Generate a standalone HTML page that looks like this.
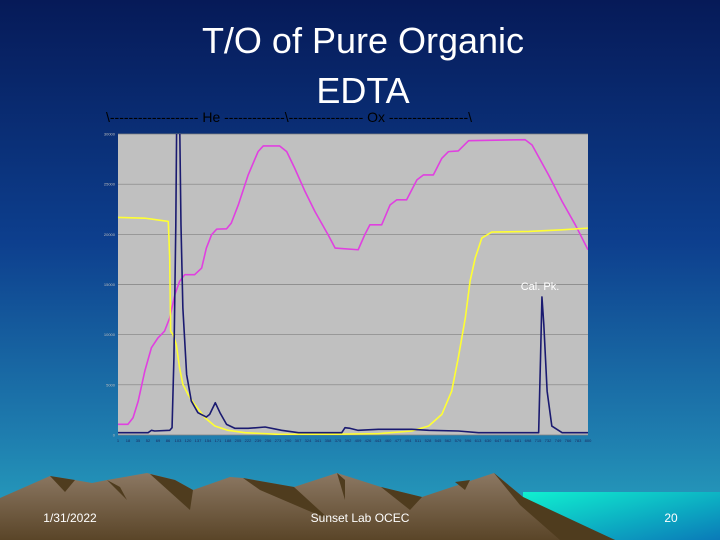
<!DOCTYPE html>
<html><head><meta charset="utf-8"><style>
body{margin:0;width:720px;height:540px;overflow:hidden;font-family:"Liberation Sans",sans-serif}
#bg{position:absolute;left:0;top:0}
</style></head><body>
<svg id="bg" width="720" height="540" xmlns="http://www.w3.org/2000/svg">
<defs>
<linearGradient id="sky" x1="0" y1="0" x2="0" y2="1">
<stop offset="0" stop-color="#061a58"/><stop offset="0.45" stop-color="#0d3f8e"/><stop offset="0.8" stop-color="#1e7cae"/><stop offset="1" stop-color="#28a6c0"/></linearGradient>
<linearGradient id="sea" x1="0" y1="0" x2="1" y2="1">
<stop offset="0" stop-color="#10f0d0"/><stop offset="1" stop-color="#0a7ab8"/></linearGradient>
<linearGradient id="mt" x1="0" y1="0" x2="0" y2="1">
<stop offset="0" stop-color="#8c7863"/><stop offset="1" stop-color="#5a4528"/></linearGradient>
<clipPath id="pc"><rect x="118" y="134" width="470" height="301"/></clipPath>
</defs>
<rect width="720" height="540" fill="url(#sky)"/>
<rect x="523" y="492" width="197" height="48" fill="url(#sea)"/>
<g>
<polygon fill="url(#mt)" points="0,498 50,476 75,480 92,483 107,480 147,473 175,480 193,490 230,477 243,478 294,487 337,473 381,487 422,497 494,473 523,497 560,515 615,540 0,540"/>
<polygon fill="#4f3c1e" points="50,476 75,480 65,492"/>
<polygon fill="#4f3c1e" points="107,480 120,487 127,500"/>
<polygon fill="#4f3c1e" points="150,474 175,480 193,490 190,510"/>
<polygon fill="#4f3c1e" points="243,478 294,487 330,520 260,490"/>
<polygon fill="#4f3c1e" points="337,473 345,500 345,480"/>
<polygon fill="#4f3c1e" points="381,487 422,497 410,510"/>
<polygon fill="#4f3c1e" points="494,473 523,497 615,540 560,540 520,505"/>
<polygon fill="#4f3c1e" points="455,482 470,480 465,490"/>
</g>
<text x="363" y="53" fill="#fff" font-size="36" text-anchor="middle">T/O of Pure Organic</text>
<text x="363" y="103" fill="#fff" font-size="36" text-anchor="middle">EDTA</text>
<text x="106" y="122" fill="#000" font-size="14">\------------------- He -------------\---------------- Ox -----------------\</text>
<rect x="118" y="134" width="470" height="301" fill="#c0c0c0"/>
<g id="grid"></g><g id="ticks"></g>
<g clip-path="url(#pc)" id="series"></g>
<text x="540" y="290" fill="#fff" font-size="11" text-anchor="middle">Cal. Pk.</text>
<text x="70" y="522" fill="#fff" font-size="12" text-anchor="middle">1/31/2022</text>
<text x="360" y="522" fill="#fff" font-size="12" text-anchor="middle">Sunset Lab OCEC</text>
<text x="671" y="522" fill="#fff" font-size="12" text-anchor="middle">20</text>
</svg>
<script>
const yTicks=[0,5000,10000,15000,20000,25000,30000];
const xTickLabels=["1","18","35","52","69","86","103","120","137","154","171","188","205","222","239","256","273","290","307","324","341","358","375","392","409","426","443","460","477","494","511","528","545","562","579","596","613","630","647","664","681","698","715","732","749","766","783","800"];
const magX=[0,21,32,43,57,71,85,99,110,121,131,142,163,178,188,199,210,231,241,256,277,298,309,344,359,376,398,419,447,462,511,525,536,561,579,593,614,636,650,671,689,703,724,746,866,881,916,945,973,1000];
const magY=[1061,1061,1724,3381,6364,8685,9680,10343,11669,13989,15315,15978,15978,16641,18630,19956,20519,20552,21116,22939,25923,28243,28807,28807,28243,26586,24265,22276,19956,18630,18464,19956,20950,20950,22939,23436,23436,25425,25923,25923,27580,28243,28310,29337,29436,28906,25923,23270,20950,18464];
const yelX=[0,57,92,107,110,112,117,124,131,138,149,163,185,206,234,270,341,447,554,625,661,689,710,724,739,749,760,774,795,874,945,1000];
const yelY=[21680,21614,21382,21282,17636,10343,10011,9017,6696,5039,4044,3050,1724,895,464,232,66,66,133,398,895,2055,4376,7691,11669,15315,17636,19625,20222,20288,20454,20619];
const fidX=[0,64,71,78,110,115,119,123,125,131,134,138,146,156,170,188,195,207,217,231,249,277,313,348,384,476,483,494,511,554,625,661,724,767,895,899,902,906,913,923,945,1000];
const fidY=[232,232,464,398,464,729,7691,20951,32000,32000,20951,12663,6033,3381,2221,1790,2055,3216,2221,1061,663,663,796,464,232,232,729,663,464,564,564,464,398,232,232,7691,13757,11006,4376,895,232,232];
const NS="http://www.w3.org/2000/svg";
const sx=v=>118+v/1000*470, sy=v=>435-v/30000*301;
const grid=document.getElementById('grid'),ticks=document.getElementById('ticks'),ser=document.getElementById('series');
yTicks.forEach(t=>{
 const l=document.createElementNS(NS,'line');
 l.setAttribute('x1',118);l.setAttribute('x2',588);l.setAttribute('y1',sy(t));l.setAttribute('y2',sy(t));
 l.setAttribute('stroke','#808080');l.setAttribute('stroke-width','0.7');
 
 
 grid.appendChild(l);
 const tx=document.createElementNS(NS,'text');
 tx.setAttribute('x',115);tx.setAttribute('y',sy(t)+1.5);tx.setAttribute('font-size','4');tx.setAttribute('fill','#bbb');tx.setAttribute('text-anchor','end');
 tx.textContent=t;
 
 
 ticks.appendChild(tx);
});
xTickLabels.forEach((t,i)=>{
 const tx=document.createElementNS(NS,'text');
 tx.setAttribute('x',118+i*470/(xTickLabels.length-1));tx.setAttribute('y',442);tx.setAttribute('font-size','4');tx.setAttribute('fill','#1a2a60');tx.setAttribute('text-anchor','middle');
 tx.textContent=t;
 
 
 ticks.appendChild(tx);
});
function line(xs,ys,col,name){
 const p=document.createElementNS(NS,'polyline');
 p.setAttribute('points',xs.map((x,i)=>sx(x)+','+sy(ys[i])).join(' '));
 p.setAttribute('fill','none');p.setAttribute('stroke',col);p.setAttribute('stroke-width','1.6');p.setAttribute('stroke-linejoin','round');
 
 
 ser.appendChild(p);
}
line(magX,magY,'#e040e0','temperature-series');
line(yelX,yelY,'#ffff33','laser-series');
line(fidX,fidY,'#1a1a70','fid-series');
</script>
</body></html>
